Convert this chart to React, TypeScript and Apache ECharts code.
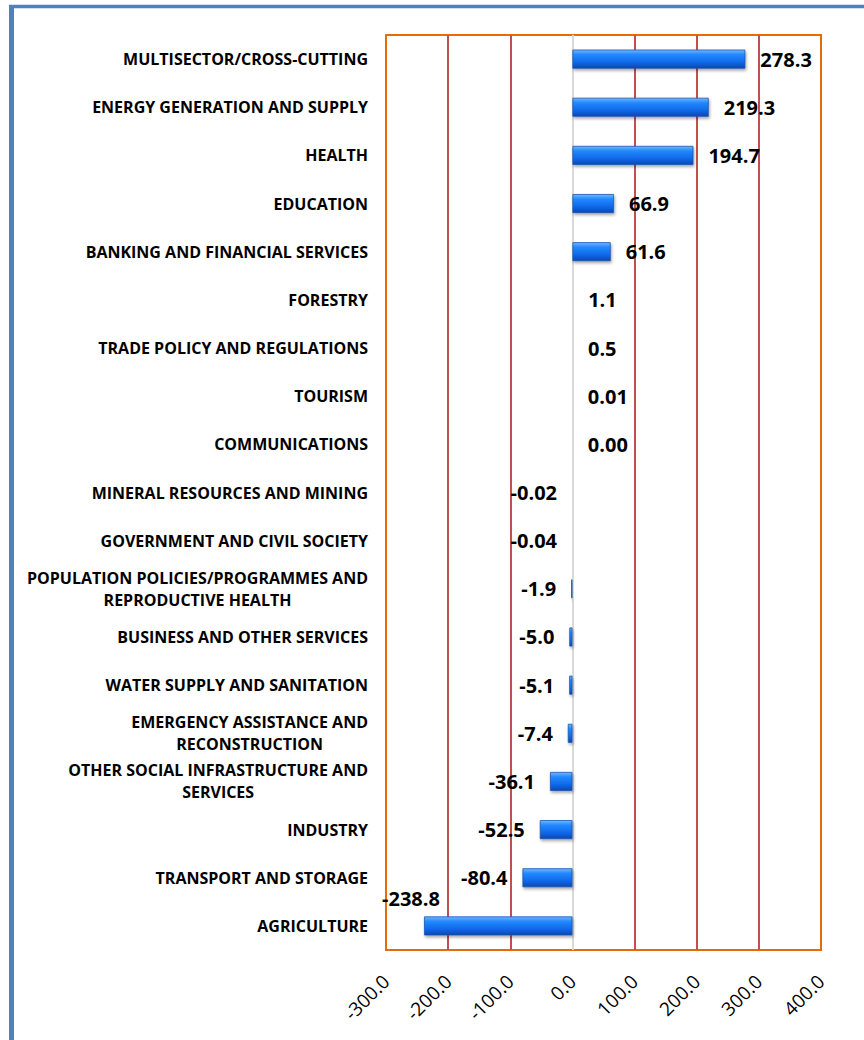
import React, { useEffect, useRef } from "react";
import * as echarts from "echarts";

const categories: string[] = [
  "MULTISECTOR/CROSS-CUTTING",
  "ENERGY GENERATION AND SUPPLY",
  "HEALTH",
  "EDUCATION",
  "BANKING AND FINANCIAL SERVICES",
  "FORESTRY",
  "TRADE POLICY AND REGULATIONS",
  "TOURISM",
  "COMMUNICATIONS",
  "MINERAL RESOURCES AND MINING",
  "GOVERNMENT AND CIVIL SOCIETY",
  "POPULATION POLICIES/PROGRAMMES AND\nREPRODUCTIVE HEALTH",
  "BUSINESS AND OTHER SERVICES",
  "WATER SUPPLY AND SANITATION",
  "EMERGENCY ASSISTANCE AND\nRECONSTRUCTION",
  "OTHER SOCIAL INFRASTRUCTURE AND\nSERVICES",
  "INDUSTRY",
  "TRANSPORT AND STORAGE",
  "AGRICULTURE",
];

const values: number[] = [
  278.3, 219.3, 194.7, 66.9, 61.6, 1.1, 0.5, 0.01, 0.0, -0.02, -0.04, -1.9, -5.0,
  -5.1, -7.4, -36.1, -52.5, -80.4, -238.8,
];

const valueLabels: string[] = [
  "278.3", "219.3", "194.7", "66.9", "61.6", "1.1", "0.5", "0.01", "0.00", "-0.02",
  "-0.04", "-1.9", "-5.0", "-5.1", "-7.4", "-36.1", "-52.5", "-80.4", "-238.8",
];

const axisMin = -300;
const axisMax = 400;
const axisStep = 100;

const FONT = "'Open Sans', 'Noto Sans', sans-serif";

export default function App() {
  const ref = useRef<HTMLDivElement>(null);

  useEffect(() => {
    if (!ref.current) return;
    const chart = echarts.init(ref.current, undefined, { renderer: "svg" });

    const barGradient = new echarts.graphic.LinearGradient(0, 0, 0, 1, [
      { offset: 0, color: "#6fb8ff" },
      { offset: 0.25, color: "#2389ff" },
      { offset: 0.7, color: "#0f66e6" },
      { offset: 1, color: "#0846b0" },
    ]);

    const data = values.map((v, i) => {
      const item: any = { value: v };
      if (v < 0) {
        item.label = { position: "left" };
      }
      if (i === values.length - 1) {
        item.label = { position: [-42, -28], distance: 0 };
      }
      return item;
    });

    const splitColors = [
      "#e46c0a",
      "#c0504d",
      "#c0504d",
      "#d9d9d9",
      "#c0504d",
      "#c0504d",
      "#c0504d",
      "#e46c0a",
    ];

    chart.setOption({
      animation: false,
      backgroundColor: "#ffffff",
      grid: {
        left: 386,
        right: 43,
        top: 35,
        bottom: 90,
        show: true,
        borderColor: "#e46c0a",
        borderWidth: 2,
        backgroundColor: "transparent",
      },
      xAxis: {
        type: "value",
        min: axisMin,
        max: axisMax,
        interval: axisStep,
        axisLine: { show: false },
        axisTick: { show: false },
        splitLine: {
          show: true,
          lineStyle: { color: splitColors, width: 2 },
        },
        axisLabel: {
          rotate: 45,
          margin: 28,
          fontFamily: FONT,
          fontSize: 19,
          color: "#000000",
          formatter: (v: number) => v.toFixed(1),
        },
      },
      yAxis: {
        type: "category",
        inverse: true,
        data: categories,
        axisLine: { show: false },
        axisTick: { show: false },
        axisLabel: {
          margin: 18,
          align: "right",
          formatter: (v: string) =>
            v
              .split("\n")
              .map((line) => `{c|${line}}`)
              .join("\n"),
          rich: {
            c: {
              align: "center",
              fontFamily: FONT,
              fontSize: 16,
              fontWeight: "bold",
              color: "#000000",
              lineHeight: 22,
            },
          },
        },
      },
      series: [
        {
          type: "bar",
          data,
          barWidth: 19,
          itemStyle: {
            color: barGradient,
            borderColor: "#1a55b0",
            borderWidth: 0.8,
            shadowColor: "rgba(0,0,0,0.35)",
            shadowBlur: 3,
            shadowOffsetX: 1,
            shadowOffsetY: 2,
          },
          label: {
            show: true,
            position: "right",
            distance: 15,
            fontFamily: FONT,
            fontSize: 20,
            fontWeight: "bold",
            color: "#000000",
            formatter: (p: any) => valueLabels[p.dataIndex],
          },
        },
      ],
      graphic: [
        {
          type: "line",
          shape: { x1: 11.5, y1: 6.5, x2: 11.5, y2: 1040 },
          style: { stroke: "#4f81bd", lineWidth: 5 },
          silent: true,
        },
        {
          type: "line",
          shape: { x1: 9, y1: 6.5, x2: 864, y2: 6.5 },
          style: { stroke: "#4f81bd", lineWidth: 3.5 },
          silent: true,
        },
      ],
    });

    return () => {
      chart.dispose();
    };
  }, []);

  return (
    <div
      ref={ref}
      style={{ position: "fixed", left: 0, top: 0, width: 864, height: 1040 }}
    />
  );
}
